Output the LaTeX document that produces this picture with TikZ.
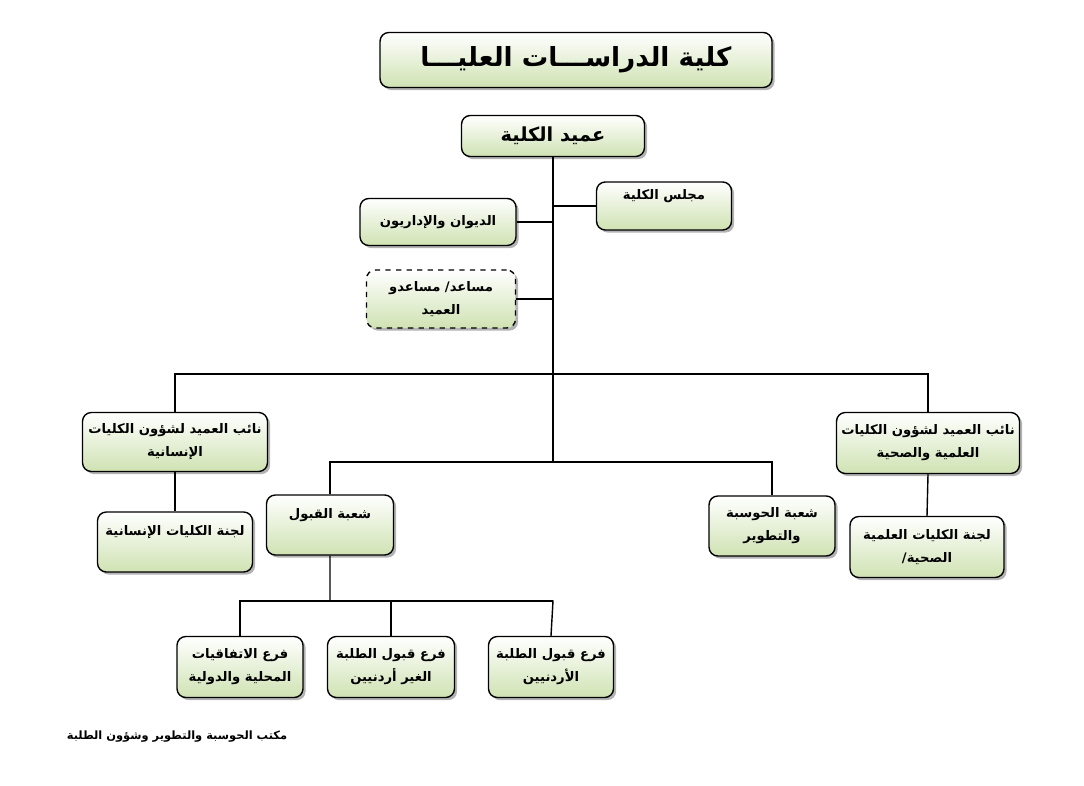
\documentclass[tikz,border=0pt]{standalone}
\usepackage{fontspec}
\TeXXeTstate=1
\newfontfamily\arabicfont[Script=Arabic]{DejaVu Sans}
\usetikzlibrary{shadows}
\newcommand{\ar}[1]{{\arabicfont\bfseries\beginR #1\endR}}
\begin{document}
\begin{tikzpicture}[x=0.02cm,y=-0.02cm,
		unit/.style={draw,thick,rounded corners=5pt,top color=white,bottom color=green!25!olive!30,
			drop shadow={opacity=0.6,shadow xshift=1.5pt,shadow yshift=-1.5pt},
			align=center,font=\fontsize{7.5}{13}\selectfont,inner sep=2pt},
		conn/.style={thick}
		]
		\useasboundingbox (0,0) rectangle (1084,786);

		\node[unit,minimum width=7.84cm,minimum height=1.1cm,font=\fontsize{15}{18}\selectfont](Title) at (576,60){\ar{كلية الدراســـات العليـــا}};
		\node[unit,minimum width=3.66cm,minimum height=0.82cm,font=\fontsize{11}{13}\selectfont](Dean) at (553,136){\ar{عميد الكلية}};
		\node[unit,minimum width=2.7cm,minimum height=0.96cm](Council) at (664,206){\ar{مجلس الكلية}\\~};
		\node[unit,minimum width=3.12cm,minimum height=0.94cm](Diwan) at (438,222){\ar{الديوان والإداريون}};
		\node[unit,dashed,minimum width=2.98cm,minimum height=1.16cm](Assist) at (441,299){\ar{مساعد/ مساعدو}\\\ar{العميد}};

		\node[unit,minimum width=3.7cm,minimum height=1.18cm](VDHum) at (175,442){\ar{نائب العميد لشؤون الكليات}\\\ar{الإنسانية}};
		\node[unit,minimum width=3.1cm,minimum height=1.2cm](ComHum) at (175,542){\ar{لجنة الكليات الإنسانية}\\~};
		\node[unit,minimum width=3.66cm,minimum height=1.22cm](VDSci) at (928,443){\ar{نائب العميد لشؤون الكليات}\\\ar{العلمية والصحية}};
		\node[unit,minimum width=3.08cm,minimum height=1.22cm](ComSci) at (927,547){\ar{لجنة الكليات العلمية}\\\ar{الصحية/}};

		\node[unit,minimum width=2.54cm,minimum height=1.2cm](Admit) at (330,525){\ar{شعبة القبول}\\~};
		\node[unit,minimum width=2.52cm,minimum height=1.2cm](Comp) at (772,526){\ar{شعبة الحوسبة}\\\ar{والتطوير}};

		\node[unit,minimum width=2.52cm,minimum height=1.22cm](BrAgr) at (240,667){\ar{فرع الاتفاقيات}\\\ar{المحلية والدولية}};
		\node[unit,minimum width=2.54cm,minimum height=1.22cm](BrFor) at (391,667){\ar{فرع قبول الطلبة}\\\ar{الغير أردنيين}};
		\node[unit,minimum width=2.5cm,minimum height=1.22cm](BrJor) at (551,667){\ar{فرع قبول الطلبة}\\\ar{الأردنيين}};

		\node[font=\fontsize{6.5}{8}\selectfont](Footer) at (177,737){\ar{مكتب الحوسبة والتطوير وشؤون الطلبة}};

		\coordinate (T1) at (553,374);
		\coordinate (T2) at (553,462);
		\coordinate (T3) at (553,601);
		\draw[conn] (Dean.south) -- (T2);
		\draw[conn] (Council.west) -- (Council.west -| Dean.south);
		\draw[conn] (Diwan.east) -- (Diwan.east -| Dean.south);
		\draw[conn] (Assist.east) -- (Assist.east -| Dean.south);
		\draw[conn] (VDHum.north) |- (T1) -| (VDSci.north);
		\draw[conn] (VDHum.south) -- (ComHum.north);
		\draw[conn] (VDSci.south) -- (ComSci.north);
		\draw[conn] (Admit.north) |- (T2) -| (Comp.north);
		\draw[conn] (Admit.south) |- (T3) -- (BrJor.north);
		\draw[conn] (BrAgr.north) |- (T3);
		\draw[conn] (BrFor.north) -- (BrFor.north |- T3);
\end{tikzpicture}
\end{document}
